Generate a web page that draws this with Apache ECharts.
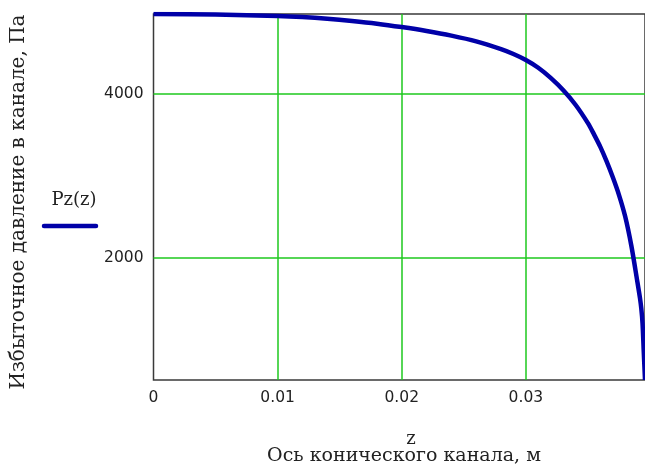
<!DOCTYPE html>
<html>
<head>
<meta charset="utf-8">
<script src="https://cdn.jsdelivr.net/npm/echarts@6/dist/echarts.min.js"></script>
<style>
html,body{margin:0;padding:0;background:#fff;}
#chart{width:645px;height:467px;}
</style>
</head>
<body>
<div id="chart"></div>
<script>
// Data
var zValues = [0, 0.005, 0.01, 0.012, 0.014, 0.016, 0.018, 0.02, 0.022, 0.024, 0.026, 0.028, 0.029, 0.03, 0.031, 0.032, 0.033, 0.034, 0.035, 0.0355, 0.036, 0.0365, 0.037, 0.0375, 0.038, 0.0385, 0.039, 0.0392, 0.0393, 0.0394, 0.0395, 0.0396];
var pValues = [4980, 4973, 4955, 4942, 4922, 4895, 4862, 4820, 4772, 4715, 4645, 4550, 4490, 4417, 4322, 4198, 4050, 3870, 3645, 3505, 3355, 3180, 2985, 2768, 2505, 2145, 1690, 1500, 1380, 1200, 850, 503];
var xTicks = [0, 0.01, 0.02, 0.03];
var xGridTicks = [0.01, 0.02, 0.03];
var yTicks = [2000, 4000];
var xMin = 0, xMax = 0.0396;
var yMin = 503, yMax = 4980;
var seriesName = 'Pz(z)';
var xTitle1 = 'z';
var xTitle2 = 'Ось конического канала, м';
var yTitle = 'Избыточное давление в канале, Па';

var gridGreen = '#1ec81e';
var curveBlue = '#0000a8';

var chart = echarts.init(document.getElementById('chart'), null, {renderer: 'canvas'});

var option = {
  animation: false,
  backgroundColor: '#ffffff',
  grid: {
    left: 153.5, top: 14, right: -2, bottom: 87,
    show: true, borderColor: '#3a3a3a', borderWidth: 1.5,
    containLabel: false
  },
  xAxis: {
    type: 'value', min: xMin, max: xMax, interval: 0.01,
    axisLine: {show: false},
    axisTick: {show: false, customValues: xGridTicks},
    splitLine: {show: true, lineStyle: {color: gridGreen, width: 1.5, type: 'solid'}},
    axisLabel: {
      customValues: xTicks,
      margin: 10, color: '#222', fontFamily: 'DejaVu Sans', fontSize: 15.5,
      formatter: function (v) { return String(v); }
    }
  },
  yAxis: {
    type: 'value', min: yMin, max: yMax,
    axisLine: {show: false},
    axisTick: {show: false, customValues: yTicks},
    splitLine: {show: true, lineStyle: {color: gridGreen, width: 1.5, type: 'solid'}},
    axisLabel: {
      customValues: yTicks, margin: 10, color: '#222', fontFamily: 'DejaVu Sans', fontSize: 15.5,
      formatter: function (v) { return String(v); }
    }
  },
  series: [
    {
      name: seriesName, type: 'line', z: 3,
      data: zValues.map(function (z, i) { return [z, pValues[i]]; }),
      showSymbol: false, smooth: 0.3,
      lineStyle: {color: curveBlue, width: 4.5},
      clip: true
    }
  ],
  graphic: [
    {
      type: 'text', x: 411, y: 439, silent: true,
      style: {text: xTitle1, fontFamily: 'DejaVu Serif', fontSize: 18, fill: '#222', align: 'center', verticalAlign: 'middle'}
    },
    {
      type: 'text', x: 404, y: 456, silent: true,
      style: {text: xTitle2, fontFamily: 'DejaVu Serif', fontSize: 19, fill: '#222', align: 'center', verticalAlign: 'middle'}
    },
    {
      type: 'text', x: 18.5, y: 202, rotation: Math.PI / 2, silent: true,
      style: {text: yTitle, fontFamily: 'DejaVu Serif', fontSize: 20, fill: '#222', align: 'center', verticalAlign: 'middle'}
    },
    {
      type: 'text', x: 74, y: 200, silent: true,
      style: {text: seriesName, fontFamily: 'DejaVu Serif', fontSize: 18, fill: '#222', align: 'center', verticalAlign: 'middle'}
    },
    {
      type: 'line', silent: true,
      shape: {x1: 44, y1: 226, x2: 96, y2: 226},
      style: {stroke: curveBlue, lineWidth: 4.5, lineCap: 'round'}
    }
  ]
};
chart.setOption(option);
</script>
</body>
</html>
